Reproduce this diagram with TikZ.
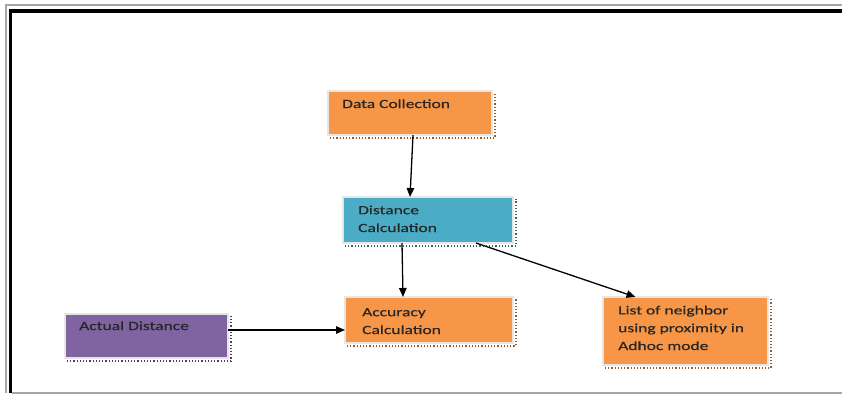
\documentclass[tikz,border=0pt]{standalone}
\usepackage{fontspec}
\setmainfont{Carlito}[FakeStretch=1.4, FakeBold=0.4]
\usetikzlibrary{arrows.meta}
\definecolor{orng}{HTML}{F79646}
\definecolor{aqua}{HTML}{4BACC6}
\definecolor{purp}{HTML}{8064A2}
\definecolor{edgegray}{HTML}{E6E6E6}
\tikzset{
  box/.style={rectangle, anchor=north west, draw=edgegray, line width=1.5pt, inner sep=0pt, outer sep=0pt},
  txt/.style={anchor=base west, align=left, font=\fontsize{12.5}{17.8}\selectfont, text=black!85, inner sep=0pt},
  conn/.style={draw=black, line width=1.3pt, -{Triangle[length=9pt,width=7.5pt]}},
  frameblack/.style={draw=black, line width=3.5pt},
  framegray/.style={draw=gray!70, line width=1.2pt}
}
\begin{document}
\begin{tikzpicture}[x=1pt,y=-1pt]
\useasboundingbox (0,0) rectangle (842,394);
% frame
\draw[framegray] (6,393) -- (6,5) -- (842,5);
\draw[frameblack] (10.5,393) -- (10.5,11) -- (842,11);
\draw[framegray] (12,393) -- (842,393);
% shadows
\foreach \x/\y/\w/\h/\c in {328/91/164/44/orng, 343/197/170/46/aqua, 65/314/163/44/purp, 345/297/168/46/orng, 603/297/165/68/orng}{
  \draw[\c!60!black, line width=1.2pt, dotted] (\x+2,\y+\h+3) -- (\x+\w+3,\y+\h+3) -- (\x+\w+3,\y+2);
}
% boxes
\node[box, fill=orng, minimum width=164pt, minimum height=44pt] (dc) at (328,91) {};
\node[box, fill=aqua, minimum width=170pt, minimum height=46pt] (dist) at (343,197) {};
\node[box, fill=purp, minimum width=163pt, minimum height=44pt] (act) at (65,314) {};
\node[box, fill=orng, minimum width=168pt, minimum height=46pt] (acc) at (345,297) {};
\node[box, fill=orng, minimum width=165pt, minimum height=68pt] (list) at (603,297) {};
% texts (anchored at baseline of last line)
\node[txt] (tdc) at (342,108) {Data Collection};
\node[txt] (tdist) at (358,232) {Distance\\Calculation};
\node[txt] (tact) at (79,330) {Actual Distance};
\node[txt] (tacc) at (362,334) {Accuracy\\Calculation};
\node[txt] (tlist) at (618,350) {List of neighbor\\using proximity in\\Adhoc mode};
% connectors
\draw[conn] ([xshift=3pt]dc.south) -- ([xshift=-18pt]dist.north);
\draw[conn] ([xshift=-26pt]dist.south) -- ([xshift=-26pt]acc.north);
\draw[conn] ([xshift=48pt]dist.south) -- ([xshift=-50pt]list.north);
\draw[conn] ([yshift=6pt]act.east) -- ([yshift=-10pt]acc.west);
\end{tikzpicture}
\end{document}
